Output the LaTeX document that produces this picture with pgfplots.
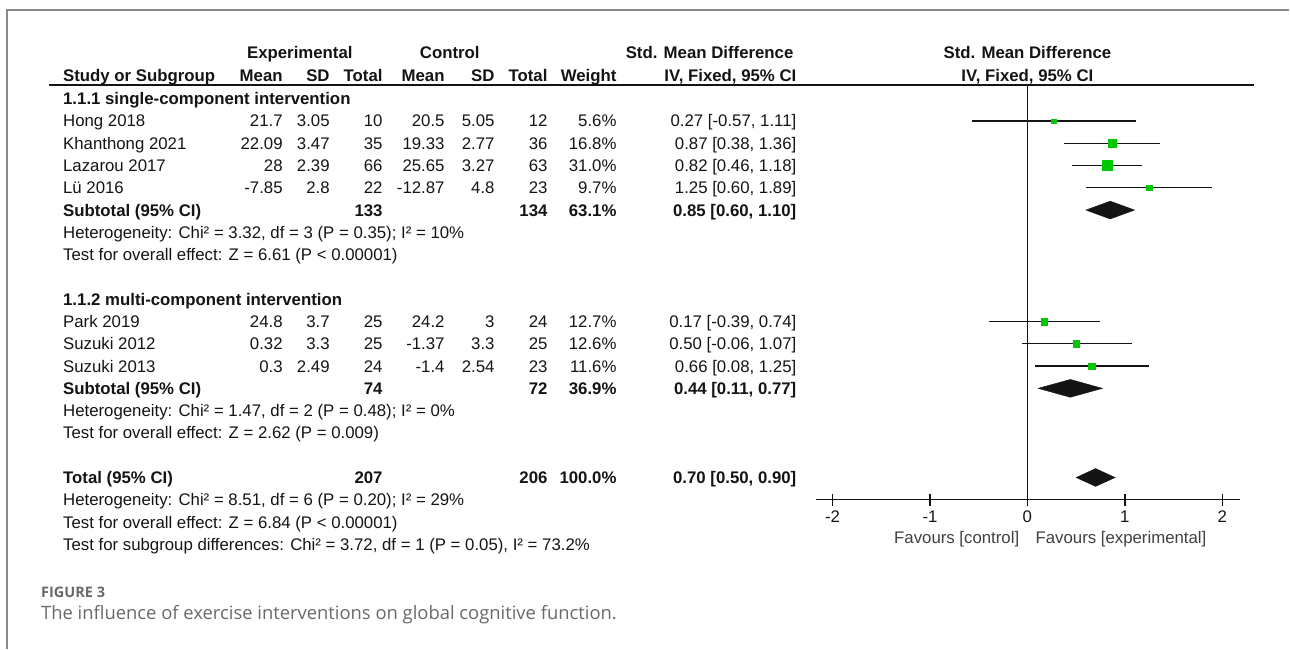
\documentclass[border=0pt]{standalone}
\usepackage{fontspec}
\setmainfont{Liberation Sans}
\newfontfamily\capfont{Open Sans}
\usepackage{pgfplots}
\pgfplotsset{compat=1.18}
\usepackage{pgfplotstable}
\definecolor{fpgreen}{RGB}{0,200,0}
\definecolor{framegray}{RGB}{140,140,140}
\definecolor{capgray}{RGB}{105,105,105}
\definecolor{ink}{RGB}{20,20,20}
\newcommand\fs{\fontsize{16.8}{20}\selectfont}
\tikzset{tx/.style={font=\fs, inner sep=0pt, text height=12pt, text depth=0pt, text=ink}}
\newcommand\cx[3]{\node[tx,anchor=east] at (axis cs:#1,#2) {#3};}
\newcommand\study[9]{%
  \node[tx,anchor=west] at (axis cs:63,#1) {#2};%
  \cx{283}{#1}{#3}\cx{330}{#1}{#4}\cx{383}{#1}{#5}%
  \cx{445}{#1}{#6}\cx{495}{#1}{#7}\cx{548}{#1}{#8}%
  \cx{617}{#1}{#9}\studyci{#1}}
\newcommand\studyci[2]{\cx{797}{#1}{#2}}
\newcommand\subtot[6]{%
  \node[tx,anchor=west,font=\fs\bfseries] at (axis cs:63,#1) {#2};%
  \node[tx,anchor=east,font=\fs\bfseries] at (axis cs:383,#1) {#3};%
  \node[tx,anchor=east,font=\fs\bfseries] at (axis cs:548,#1) {#4};%
  \node[tx,anchor=east,font=\fs\bfseries] at (axis cs:617,#1) {#5};%
  \node[tx,anchor=east,font=\fs\bfseries] at (axis cs:797,#1) {#6};}
\newcommand\txtline[2]{\node[tx,anchor=west] at (axis cs:63,#1) {#2};}

% study-level results: row index, SMD, lower, upper, weight (%)
\pgfplotstableread{
row smd lo hi w
0 0.27 -0.57 1.11 5.6
1 0.87 0.38 1.36 16.8
2 0.82 0.46 1.18 31.0
3 1.25 0.60 1.89 9.7
9 0.17 -0.39 0.74 12.7
10 0.50 -0.06 1.07 12.6
11 0.66 0.08 1.25 11.6
}\studies

\begin{document}
\begin{tikzpicture}
% ---------- canvas for the table text ----------
\begin{axis}[at={(0pt,0pt)}, anchor=south west, scale only axis,
  width=1290pt, height=649pt, xmin=0, xmax=1290, ymin=-23.677, ymax=5.426,
  hide axis, clip=false]
  \path (rel axis cs:0,0) rectangle (rel axis cs:1,1);
  % frame
  \draw[framegray, line width=1.5pt] (axis cs:1290,4.978) -- (axis cs:7,4.978) -- (axis cs:7,-23.677);
  % headers
  \node[tx,font=\fs\bfseries] at (axis cs:300,3.05) {Experimental};
  \node[tx,font=\fs\bfseries] at (axis cs:450,3.05) {Control};
  \node[tx,font=\fs\bfseries] at (axis cs:710,3.05) {Std. Mean Difference};
  \node[tx,font=\fs\bfseries] at (axis cs:1028,3.05) {Std. Mean Difference};
  \node[tx,anchor=west,font=\fs\bfseries] at (axis cs:63,2.06) {Study or Subgroup};
  \node[tx,anchor=east,font=\fs\bfseries] at (axis cs:283,2.06) {Mean};
  \node[tx,anchor=east,font=\fs\bfseries] at (axis cs:330,2.06) {SD};
  \node[tx,anchor=east,font=\fs\bfseries] at (axis cs:383,2.06) {Total};
  \node[tx,anchor=east,font=\fs\bfseries] at (axis cs:445,2.06) {Mean};
  \node[tx,anchor=east,font=\fs\bfseries] at (axis cs:495,2.06) {SD};
  \node[tx,anchor=east,font=\fs\bfseries] at (axis cs:548,2.06) {Total};
  \node[tx,anchor=east,font=\fs\bfseries] at (axis cs:617,2.06) {Weight};
  \node[tx,anchor=east,font=\fs\bfseries] at (axis cs:797,2.06) {IV, Fixed, 95\% CI};
  \node[tx,font=\fs\bfseries] at (axis cs:1028,2.06) {IV, Fixed, 95\% CI};
  \draw[ink, line width=1.3pt] (axis cs:49,1.614) -- (axis cs:1255,1.614);
  % group 1
  \node[tx,anchor=west,font=\fs\bfseries] at (axis cs:63,1) {1.1.1 single-component intervention};
  \study{0}{Hong 2018}{21.7}{3.05}{10}{20.5}{5.05}{12}{5.6\%}{0.27 [-0.57, 1.11]}
  \study{-1}{Khanthong 2021}{22.09}{3.47}{35}{19.33}{2.77}{36}{16.8\%}{0.87 [0.38, 1.36]}
  \study{-2}{Lazarou 2017}{28}{2.39}{66}{25.65}{3.27}{63}{31.0\%}{0.82 [0.46, 1.18]}
  \study{-3}{Lü 2016}{-7.85}{2.8}{22}{-12.87}{4.8}{23}{9.7\%}{1.25 [0.60, 1.89]}
  \subtot{-4}{Subtotal (95\% CI)}{133}{134}{63.1\%}{0.85 [0.60, 1.10]}
  \txtline{-5}{Heterogeneity: Chi² = 3.32, df = 3 (P = 0.35); I² = 10\%}
  \txtline{-6}{Test for overall effect: Z = 6.61 (P < 0.00001)}
  % group 2
  \node[tx,anchor=west,font=\fs\bfseries] at (axis cs:63,-8) {1.1.2 multi-component intervention};
  \study{-9}{Park 2019}{24.8}{3.7}{25}{24.2}{3}{24}{12.7\%}{0.17 [-0.39, 0.74]}
  \study{-10}{Suzuki 2012}{0.32}{3.3}{25}{-1.37}{3.3}{25}{12.6\%}{0.50 [-0.06, 1.07]}
  \study{-11}{Suzuki 2013}{0.3}{2.49}{24}{-1.4}{2.54}{23}{11.6\%}{0.66 [0.08, 1.25]}
  \subtot{-12}{Subtotal (95\% CI)}{74}{72}{36.9\%}{0.44 [0.11, 0.77]}
  \txtline{-13}{Heterogeneity: Chi² = 1.47, df = 2 (P = 0.48); I² = 0\%}
  \txtline{-14}{Test for overall effect: Z = 2.62 (P = 0.009)}
  % total
  \subtot{-16}{Total (95\% CI)}{207}{206}{100.0\%}{0.70 [0.50, 0.90]}
  \txtline{-17}{Heterogeneity: Chi² = 8.51, df = 6 (P = 0.20); I² = 29\%}
  \txtline{-18}{Test for overall effect: Z = 6.84 (P < 0.00001)}
  \txtline{-19}{Test for subgroup differences: Chi² = 3.72, df = 1 (P = 0.05), I² = 73.2\%}
  % favours
  \node[tx,anchor=east,text=black!75] at (axis cs:1020,-18.7) {Favours [control]};
  \node[tx,anchor=west,text=black!75] at (axis cs:1036,-18.7) {Favours [experimental]};
  % caption
  \node[anchor=west,inner sep=0pt,text=capgray,font=\capfont\fontsize{14.5}{17}\selectfont\bfseries] at (axis cs:41,-21.17) {FIGURE 3};
  \node[anchor=west,inner sep=0pt,text=capgray,font=\capfont\fontsize{18.4}{21}\selectfont] at (axis cs:41,-22.15) {The influence of exercise interventions on global cognitive function.};
\end{axis}
% ---------- forest plot ----------
\begin{axis}[at={(816pt,149pt)}, anchor=south west, scale only axis,
  width=425pt, height=415pt,
  xmin=-2.1744, xmax=2.1846, ymin=-16.996, ymax=1.614,
  axis x line=bottom, axis y line=none,
  xtick={-2,-1,0,1,2}, tick align=center, major tick length=12pt,
  axis line style={-, ink, line width=1.3pt},
  every tick/.style={ink, line width=1.3pt},
  xticklabel style={font=\fs, inner sep=0pt, text height=12pt, text depth=0pt, anchor=north, yshift=-5pt, text=ink},
  /pgf/number format/assume math mode=true,
  clip=false]
  \draw[ink, line width=1pt] (axis cs:0,1.614) -- (axis cs:0,-16.996);
  % confidence intervals
  \addplot[draw=none, mark=none, forget plot,
    error bars/.cd, x dir=both, x explicit, error mark=none,
    error bar style={draw=ink, line width=1.2pt}]
    table[x=smd, y expr=-\thisrow{row},
      x error plus expr=\thisrow{hi}-\thisrow{smd},
      x error minus expr=\thisrow{smd}-\thisrow{lo}] {\studies};
  % weighted squares
  \addplot[scatter, only marks, mark=square*,
    scatter/use mapped color={draw=fpgreen, fill=fpgreen},
    visualization depends on={0.9*sqrt(\thisrow{w}) \as \msize},
    scatter/@pre marker code/.append style={/tikz/mark size=\msize}]
    table[x=smd, y expr=-\thisrow{row}] {\studies};
  % pooled diamonds
  \addplot[fill=ink, draw=ink] coordinates {(0.60,-4) (0.85,-3.6) (1.10,-4) (0.85,-4.4)} -- cycle;
  \addplot[fill=ink, draw=ink] coordinates {(0.11,-12) (0.44,-11.6) (0.77,-12) (0.44,-12.4)} -- cycle;
  \addplot[fill=ink, draw=ink] coordinates {(0.50,-16) (0.70,-15.6) (0.90,-16) (0.70,-16.4)} -- cycle;
\end{axis}
\end{tikzpicture}
\end{document}
